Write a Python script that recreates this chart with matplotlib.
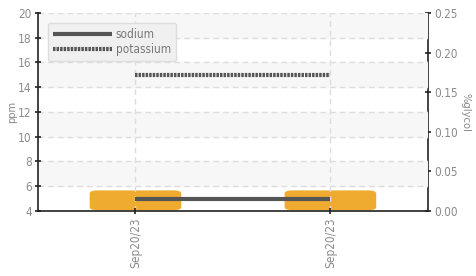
import numpy as np
import matplotlib.pyplot as plt
from matplotlib.patches import FancyBboxPatch

dates = ["Sep20/23", "Sep20/23"]
sodium = [5, 5]
potassium = [15, 15]
glycol = [0.025, 0.025]

plt.rcParams['font.family'] = ['DejaVu Sans']
plt.rcParams['font.stretch'] = 'condensed'
grey = "#8a8a8a"
line_c = "#555555"
bar_c = "#eeab2f"

fig = plt.figure(figsize=(4.77, 2.76), dpi=100)
ax = fig.add_axes([0.0797, 0.2355, 0.8173, 0.7175])
ax2 = ax.twinx()

x = np.arange(len(dates))

# alternating bands
for lo in range(6, 20, 4):
    ax.axhspan(lo, lo + 2, color="#f7f7f7", zorder=0)

# glycol bars on right axis, rounded
bars = ax2.bar(x, glycol, width=0.47, color=bar_c, linewidth=0)
for r in bars:
    bx, by, bw, bh = r.get_x(), r.get_y(), r.get_width(), r.get_height()
    r.set_visible(False)
    p = FancyBboxPatch((bx + 0.03, by + 0.004), bw - 0.06, bh - 0.006,
                       boxstyle="round,pad=0.03,rounding_size=0.04",
                       mutation_aspect=0.1, facecolor=bar_c, edgecolor="none",
                       zorder=1)
    ax2.add_patch(p)

ax.set_zorder(ax2.get_zorder() + 1)
ax.patch.set_visible(False)

ax.plot(x, sodium, color=line_c, lw=3, solid_capstyle="butt", label="sodium")
ax.plot(x, potassium, color=line_c, lw=3, dashes=(0.6, 0.25),
        dash_capstyle="butt", label="potassium")

ax.set_xlim(-0.5, 1.5)
ax.set_ylim(4, 20)
ax.set_yticks(np.arange(4, 21, 2))
ax2.set_ylim(0, 0.25)
ax2.set_yticks(np.arange(0, 0.26, 0.05))
ax2.set_yticklabels([f"{v:.2f}" for v in np.arange(0, 0.26, 0.05)])

ax.set_xticks(x)
ax.set_xticklabels(dates, rotation=90)

ax.grid(True, color="#dddddd", linestyle=(0, (4, 3)), lw=1)
ax.set_axisbelow(True)

for a in (ax, ax2):
    a.spines["top"].set_visible(False)
    for s in ("left", "right", "bottom"):
        a.spines[s].set_color("#222222")
        a.spines[s].set_linewidth(1.2)
    a.tick_params(colors="#222222", labelcolor=grey, labelsize=8.5,
                  direction="inout", length=5, width=1.2, pad=2)
ax.spines["right"].set_visible(False)
ax2.spines["left"].set_visible(False)
ax2.spines["bottom"].set_visible(False)

ax.set_ylabel("ppm", color=grey, fontsize=8, labelpad=1)
ax2.set_ylabel("%glycol", color=grey, fontsize=8, rotation=270, labelpad=9)

leg = ax.legend(loc="upper left", handlelength=5.0, fontsize=8.5,
                frameon=True, fancybox=True, borderpad=0.45,
                handletextpad=0.3, labelspacing=0.15,
                bbox_to_anchor=(0.01, 0.98))
leg.get_frame().set_facecolor("#f0f0f0")
leg.get_frame().set_edgecolor("#dddddd")
leg.get_frame().set_alpha(1)
for t in leg.get_texts():
    t.set_color("#777777")

fig.savefig("out.png", dpi=100)
